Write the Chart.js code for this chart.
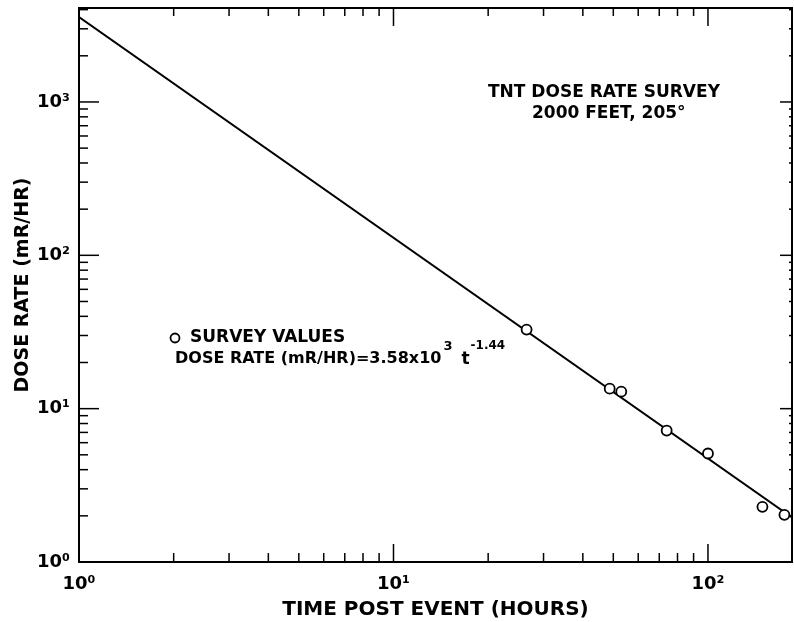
<!DOCTYPE html>
<html>
<head>
<meta charset="utf-8">
<script src="https://cdn.jsdelivr.net/npm/chart.js@4.4.1/dist/chart.umd.min.js"></script>
<style>
  body { margin: 0; background: #fff; }
  #wrap { width: 794px; height: 622px; }
</style>
</head>
<body>
<div id="wrap"><canvas id="myChart" width="794" height="622"></canvas></div>
<script>
// survey values
const timeHours = [26.5, 48.7, 53, 73.9, 100, 149, 175];
const doseRate = [32.8, 13.5, 12.9, 7.2, 5.1, 2.29, 2.03];
// fitted line end points (3.58x10^3 t^-1.44)
const fitTime = [1, 185];
const fitDose = [3580, 1.95];
// axis decades
const xMajorTicks = [1, 10, 100];
const yMajorTicks = [1, 10, 100, 1000];
const tickLabels = { 1: '10⁰', 10: '10¹', 100: '10²', 1000: '10³' };

const FONT = 'DejaVu Sans';

// inward tick marks on all four sides + frame + notes
const paperPlugin = {
    id: 'paper',
    afterDraw(chart) {
        const ctx = chart.ctx;
        const a = chart.chartArea;
        const xs = chart.scales.x, ys = chart.scales.y;
        ctx.save();
        ctx.strokeStyle = '#000';
        ctx.lineWidth = 2;
        ctx.strokeRect(a.left, a.top, a.right - a.left, a.bottom - a.top);

        ctx.lineWidth = 1.5;
        const line = (x1, y1, x2, y2) => {
            ctx.beginPath(); ctx.moveTo(x1, y1); ctx.lineTo(x2, y2); ctx.stroke();
        };
        xMajorTicks.forEach(d => {
            for (let k = 1; k <= 9; k++) {
                const v = k * d;
                if (v < xs.min || v > xs.max) continue;
                const px = xs.getPixelForValue(v);
                const len = k === 1 ? 18 : 9;
                line(px, a.bottom, px, a.bottom - len);
                line(px, a.top, px, a.top + (k === 1 ? 18 : 8));
            }
        });
        yMajorTicks.forEach(d => {
            for (let k = 1; k <= 9; k++) {
                const v = k * d;
                if (v < ys.min || v > ys.max) continue;
                const py = ys.getPixelForValue(v);
                line(a.left, py, a.left + (k === 1 ? 20 : 9), py);
                line(a.right, py, a.right - (k === 1 ? 12 : 3), py);
            }
        });

        // notes
        ctx.fillStyle = '#000';
        ctx.textBaseline = 'middle';
        ctx.font = 'bold 17px "' + FONT + '"';
        ctx.textAlign = 'left';
        ctx.fillText('TNT DOSE RATE SURVEY', 488, 93);
        ctx.fillText('2000 FEET, 205°', 532, 114);

        ctx.beginPath();
        ctx.lineWidth = 1.8;
        ctx.arc(175, 338, 4.5, 0, Math.PI * 2);
        ctx.stroke();
        ctx.fillText('SURVEY VALUES', 190, 338);

        ctx.font = 'bold 16px "' + FONT + '"';
        const main = 'DOSE RATE (mR/HR)=3.58x10';
        ctx.fillText(main, 175, 359);
        let x = 175 + ctx.measureText(main).width;
        ctx.font = 'bold 13px "' + FONT + '"';
        ctx.fillText('3', x + 2, 347);
        x += 20;
        ctx.font = 'bold 17px "' + FONT + '"';
        ctx.fillText('t', x, 360);
        x += ctx.measureText('t').width + 1;
        ctx.font = 'bold 12px "' + FONT + '"';
        ctx.fillText('-1.44', x, 346);
        ctx.restore();
    }
};

const ctx = document.getElementById('myChart').getContext('2d');
const myChart = new Chart(ctx, {
    data: {
        datasets: [{
            type: 'scatter',
            label: 'SURVEY VALUES',
            data: timeHours.map((t, i) => ({ x: t, y: doseRate[i] })),
            pointRadius: 5,
            pointBackgroundColor: '#fff',
            pointBorderColor: '#000',
            pointBorderWidth: 1.8,
            order: 0
        }, {
            type: 'line',
            label: 'fit',
            data: fitTime.map((t, i) => ({ x: t, y: fitDose[i] })),
            borderColor: '#000',
            borderWidth: 2,
            pointRadius: 0,
            order: 1
        }]
    },
    plugins: [paperPlugin],
    options: {
        responsive: false,
        animation: false,
        layout: { autoPadding: false, padding: { top: 8, right: 2, left: 0, bottom: 0 } },
        plugins: {
            legend: { display: false },
            tooltip: { enabled: false }
        },
        scales: {
            x: {
                type: 'logarithmic',
                min: 1,
                max: 185,
                afterFit(scale) {
                    scale.height = 60;
                    scale.paddingLeft = 0;
                    scale.paddingRight = 0;
                },
                afterBuildTicks(scale) { scale.ticks = xMajorTicks.map(v => ({ value: v })); },
                grid: { display: false, drawTicks: false },
                border: { display: false },
                ticks: {
                    callback: v => tickLabels[v] || '',
                    color: '#000',
                    maxRotation: 0,
                    autoSkip: false,
                    padding: 12,
                    font: { family: FONT, size: 18, weight: 'bold' }
                },
                title: {
                    display: true,
                    text: 'TIME POST EVENT (HOURS)',
                    color: '#000',
                    padding: { top: 0, bottom: 0 },
                    font: { family: FONT, size: 20, weight: 'bold' }
                }
            },
            y: {
                type: 'logarithmic',
                min: 1,
                max: 4100,
                afterFit(scale) {
                    scale.width = 79;
                    scale.paddingTop = 0;
                    scale.paddingBottom = 0;
                },
                afterBuildTicks(scale) { scale.ticks = yMajorTicks.map(v => ({ value: v })); },
                grid: { display: false, drawTicks: false },
                border: { display: false },
                ticks: {
                    callback: v => tickLabels[v] || '',
                    color: '#000',
                    autoSkip: false,
                    padding: 9,
                    font: { family: FONT, size: 18, weight: 'bold' }
                },
                title: {
                    display: true,
                    text: 'DOSE RATE (mR/HR)',
                    color: '#000',
                    padding: { top: 12, bottom: 0 },
                    font: { family: FONT, size: 19, weight: 'bold' }
                }
            }
        }
    }
});
</script>
</body>
</html>
